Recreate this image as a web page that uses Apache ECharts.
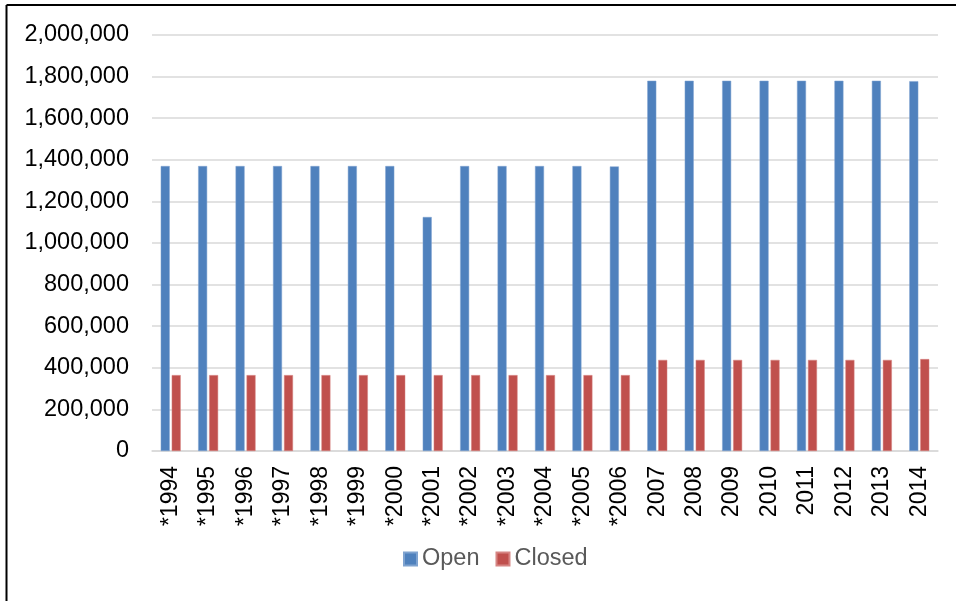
<!DOCTYPE html>
<html>
<head>
<meta charset="utf-8">
<script src="https://cdn.jsdelivr.net/npm/echarts@6/dist/echarts.min.js"></script>
<style>
html,body{margin:0;padding:0;background:#fff;}
#chart{width:956px;height:601px;}
</style>
</head>
<body>
<div id="chart"></div>
<script>
var categories = ['*1994','*1995','*1996','*1997','*1998','*1999','*2000','*2001','*2002','*2003','*2004','*2005','*2006','2007','2008','2009','2010','2011','2012','2013','2014'];
var openValues = [1370000,1370000,1370000,1370000,1370000,1370000,1370000,1125000,1370000,1370000,1370000,1370000,1368000,1780000,1780000,1780000,1780000,1780000,1780000,1780000,1778000];
var closedValues = [365000,365000,365000,365000,365000,365000,365000,365000,365000,365000,365000,365000,365000,438000,438000,438000,438000,438000,438000,438000,442000];
var seriesNames = ['Open','Closed'];

var chart = echarts.init(document.getElementById('chart'));
var font = 'Liberation Sans, Arial, sans-serif';
chart.setOption({
  animation: false,
  graphic: [
    {type:'line', shape:{x1:6.5,y1:5,x2:956,y2:5}, style:{stroke:'#000',lineWidth:2}},
    {type:'line', shape:{x1:6.5,y1:5,x2:6.5,y2:601}, style:{stroke:'#000',lineWidth:2}}
  ],
  grid: {left:152, right:18, top:35, bottom:150, containLabel:false},
  legend: {
    data: seriesNames,
    top: 542,
    left: 398,
    itemWidth: 13,
    itemHeight: 13,
    itemGap: 16,
    icon: 'rect',
    textStyle: {fontFamily: font, fontSize: 23.5, color: '#595959'}
  },
  xAxis: {
    type: 'category',
    data: categories,
    axisTick: {show:false},
    axisLine: {lineStyle:{color:'#D9D9D9', width:1.5}},
    axisLabel: {rotate: 90, margin: 15, fontFamily: font, fontSize: 23, color: '#000', interval: 0}
  },
  yAxis: {
    type: 'value',
    min: 0, max: 2000000, interval: 200000,
    axisLine: {show:false},
    axisTick: {show:false},
    splitLine: {lineStyle:{color:'#D9D9D9', width:1.5}},
    axisLabel: {
      margin: 23, fontFamily: font, fontSize: 23.5, color: '#000',
      formatter: function(v){ return v.toLocaleString('en-US'); }
    }
  },
  series: [
    {name: seriesNames[0], type:'bar', data: openValues, barWidth: 9, barGap: '22%',
     itemStyle:{color:'#4F81BD', borderColor:'#7FA3D0', borderWidth:0.5}},
    {name: seriesNames[1], type:'bar', data: closedValues, barWidth: 9,
     itemStyle:{color:'#C0504D', borderColor:'#D68583', borderWidth:0.5}}
  ]
});
</script>
</body>
</html>
